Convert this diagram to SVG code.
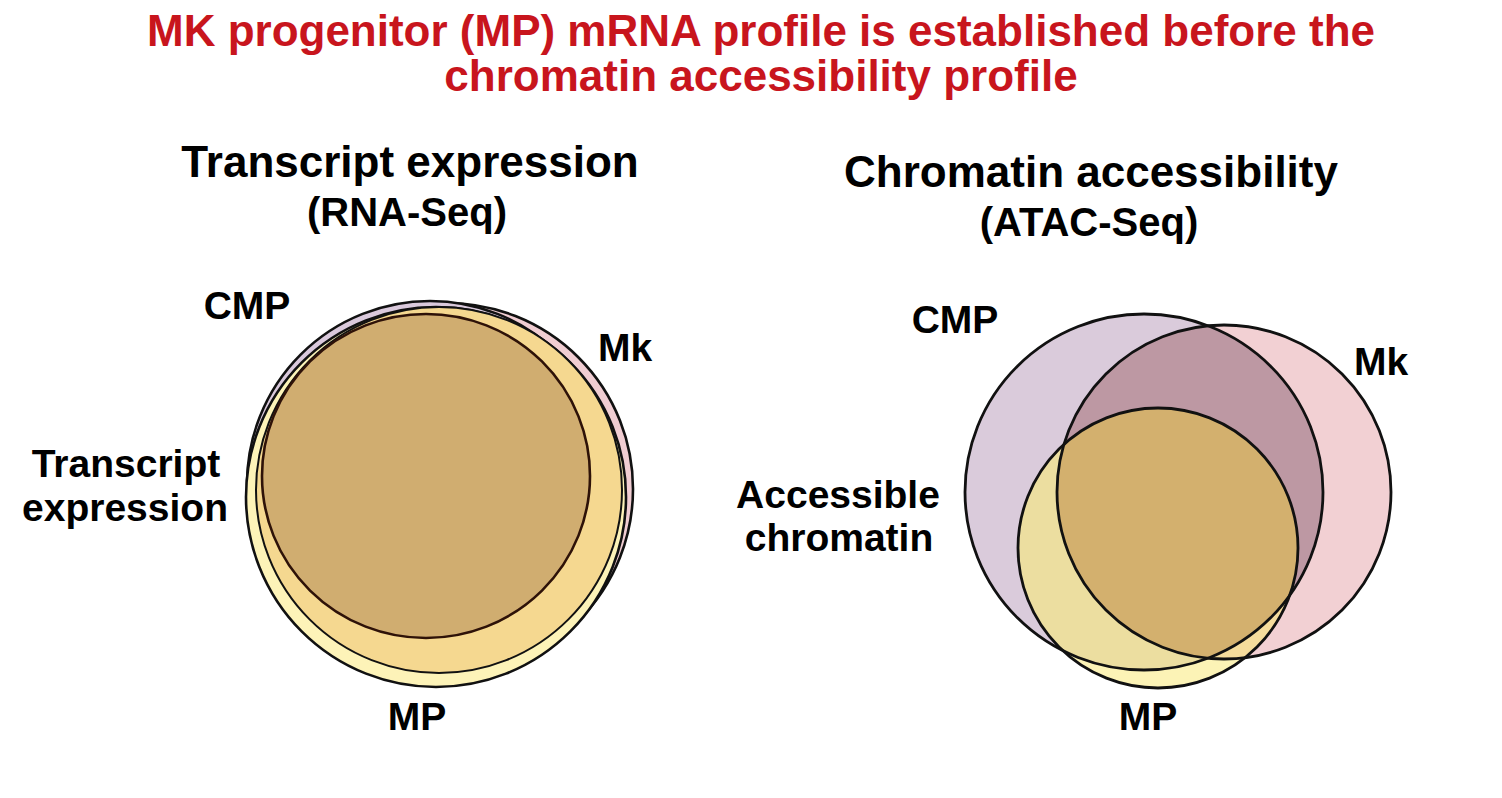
<svg xmlns="http://www.w3.org/2000/svg" width="1502" height="798" viewBox="0 0 1502 798">
<style>
.t{font-family:"Liberation Sans",Arial,Helvetica,sans-serif;font-weight:bold;fill:#000;text-anchor:middle}
.title{fill:#c8151d;font-size:44px}
.h1{font-size:44px}
.h2{font-size:40px}
.lb{font-size:39px}
.ol{stroke:#111;stroke-width:2.6}
.ln{fill:none;stroke:#111;stroke-width:2.8}
</style>
<defs>
<clipPath id="clipRC"><ellipse cx="1144" cy="492" rx="179" ry="178"/></clipPath>
<clipPath id="clipRK"><circle cx="1224" cy="492" r="167"/></clipPath>
</defs>
<rect width="1502" height="798" fill="#fff"/>

<g id="title">
<text class="t title" x="761" y="46">MK progenitor (MP) mRNA profile is established before the</text>
<text class="t title" x="761" y="91">chromatin accessibility profile</text>
</g>

<g id="left-heading">
<text class="t h1" x="410" y="177">Transcript expression</text>
<text class="t h2" x="407" y="226">(RNA-Seq)</text>
</g>

<g id="right-heading">
<text class="t h1" x="1091" y="187">Chromatin accessibility</text>
<text class="t h2" x="1089" y="236">(ATAC-Seq)</text>
</g>

<g id="left-venn">
<g id="left-mk"><circle cx="447" cy="489" r="186" fill="#f0cdd2" class="ol"/></g>
<g id="left-cmp"><circle cx="430" cy="484" r="183" fill="#dac9dc" class="ol"/></g>
<g id="left-mp"><circle cx="436" cy="497" r="190" fill="#fdf3b8" class="ol"/></g>
<g id="left-mp-mk"><circle cx="439" cy="490" r="183" fill="#f5d890" stroke="#111" stroke-width="2"/></g>
<g id="left-core"><ellipse cx="426" cy="476" rx="164" ry="162" fill="#d0ad70" stroke="#2e1208" stroke-width="2.6"/></g>
</g>

<g id="right-venn">
<g id="right-cmp"><ellipse cx="1144" cy="492" rx="179" ry="178" fill="#dacbdb"/></g>
<g id="right-mk"><circle cx="1224" cy="492" r="167" fill="#f2d0d3"/></g>
<g id="right-mp"><circle cx="1158" cy="548" r="140" fill="#fcf3b6"/></g>
<g id="right-overlaps">
<g clip-path="url(#clipRC)"><circle cx="1224" cy="492" r="167" fill="#bd98a3"/></g>
<g clip-path="url(#clipRC)"><circle cx="1158" cy="548" r="140" fill="#ecdea0"/></g>
<g clip-path="url(#clipRK)"><circle cx="1158" cy="548" r="140" fill="#f5dc9c"/></g>
<g clip-path="url(#clipRC)"><g clip-path="url(#clipRK)"><circle cx="1158" cy="548" r="140" fill="#d3b06e"/></g></g>
</g>
<g id="right-outlines">
<ellipse cx="1144" cy="492" rx="179" ry="178" class="ln"/>
<circle cx="1224" cy="492" r="167" class="ln"/>
<circle cx="1158" cy="548" r="140" class="ln"/>
</g>
</g>

<g id="connectors"/>

<g id="left-labels">
<text class="t lb" x="247" y="319">CMP</text>
<text class="t lb" x="625" y="361">Mk</text>
<text class="t lb" x="126" y="477">Transcript</text>
<text class="t lb" x="125" y="521">expression</text>
<text class="t lb" x="417" y="730">MP</text>
</g>

<g id="right-labels">
<text class="t lb" x="955" y="333">CMP</text>
<text class="t lb" x="1381" y="375">Mk</text>
<text class="t lb" x="838" y="508">Accessible</text>
<text class="t lb" x="839" y="551">chromatin</text>
<text class="t lb" x="1148" y="730">MP</text>
</g>
</svg>
